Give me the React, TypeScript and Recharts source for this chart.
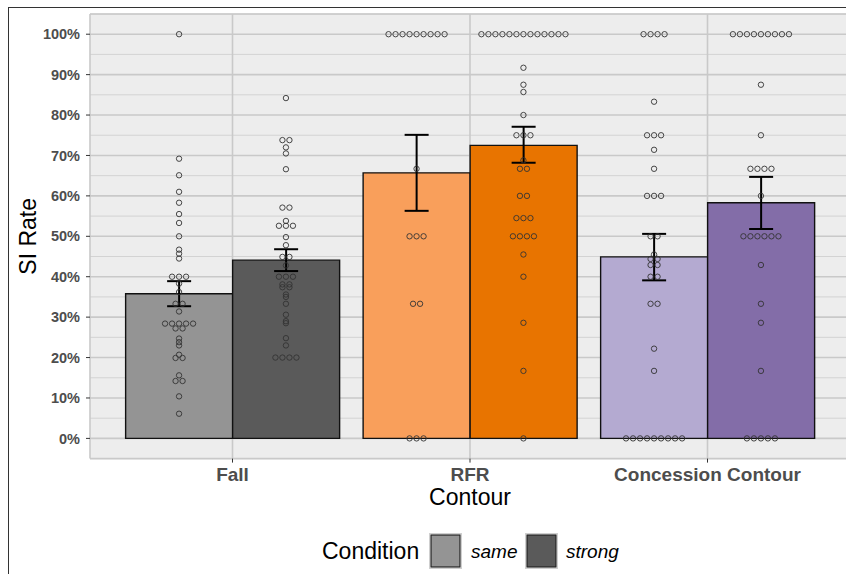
import React from 'react';
import { ComposedChart, Bar, Cell, ErrorBar, Scatter, XAxis, YAxis, CartesianGrid } from 'recharts';

// categories and conditions
const categories = ['Fall', 'RFR', 'Concession Contour'];

// bar means (%) and error-bar bounds
const sameMean = [35.8, 65.7, 44.9];
const strongMean = [44.1, 72.5, 58.3];
const sameLow = [32.7, 56.3, 39.1];
const sameHigh = [38.9, 75.1, 50.6];
const strongLow = [41.4, 68.2, 51.8];
const strongHigh = [46.8, 77.1, 64.7];

// individual SI rates (dotplot)
const fallSame = [100, 69.2, 65.1, 61, 58.3, 55.5, 53.3, 50, 46.7, 45.7, 44.5, 40, 40, 40, 38.3, 36.2, 33.3, 33.3, 31.4,
  28.4, 28.4, 28.4, 28.4, 28.4, 27.2, 27.2, 24.7, 23.8, 23, 20.7, 19.9, 19.9, 15.6, 14.2, 14.2, 10.4, 6.1];
const fallStrong = [84.2, 73.8, 73.8, 72, 70.5, 66.6, 57.1, 57.1, 53.8, 52.6, 52.6, 52.6, 49.8, 47.8, 44.9, 44.9, 42.8,
  40, 40, 40, 38.1, 38.1, 37.4, 37.4, 35.6, 35, 33.3, 30.6, 29, 28.5, 24.8, 23, 20, 20, 20, 20];
const rfrSame = [100, 100, 100, 100, 100, 100, 100, 100, 100, 66.7, 50, 50, 50, 33.3, 33.3, 0, 0, 0];
const rfrStrong = [100, 100, 100, 100, 100, 100, 100, 100, 100, 100, 100, 100, 100, 91.7, 87.5, 85.7, 80, 75, 75, 75,
  68.8, 66.7, 66.7, 60, 60, 54.5, 54.5, 54.5, 50, 50, 50, 50, 45.5, 40, 28.6, 16.7, 0];
const concSame = [100, 100, 100, 100, 83.3, 75, 75, 75, 71.4, 66.7, 60, 60, 60, 50, 50, 45.5, 44.4, 44.4, 42.9, 42.9,
  40, 40, 33.3, 33.3, 22.2, 16.7, 0, 0, 0, 0, 0, 0, 0, 0, 0];
const concStrong = [100, 100, 100, 100, 100, 100, 100, 100, 100, 87.5, 75, 66.7, 66.7, 66.7, 66.7, 60,
  50, 50, 50, 50, 50, 50, 42.9, 33.3, 28.6, 16.7, 0, 0, 0, 0, 0];

const yTicks = [0, 10, 20, 30, 40, 50, 60, 70, 80, 90, 100];
const minorTicks = [5, 15, 25, 35, 45, 55, 65, 75, 85, 95];
const catTicks = [0, 1, 2];

const sameColors = ['#949494', '#f99f5b', '#b4aad1'];
const strongColors = ['#5a5a5a', '#e87400', '#836da8'];

const FONT = '"Liberation Sans", Arial, Helvetica, sans-serif';
const dodge = 0.225;
const dotStep = 0.0295;

function stackDots(values: number[], center: number) {
  const counts = new Map<number, number>();
  values.forEach((v) => counts.set(v, (counts.get(v) || 0) + 1));
  const out: { x: number; y: number }[] = [];
  counts.forEach((n, v) => {
    for (let k = 0; k < n; k++) out.push({ x: center + (k - (n - 1) / 2) * dotStep, y: v });
  });
  return out;
}

const dotGroups = [[fallSame, fallStrong], [rfrSame, rfrStrong], [concSame, concStrong]];
const dots = dotGroups.flatMap(([s, t], i) => [...stackDots(s, i - dodge), ...stackDots(t, i + dodge)]);

const rows = categories.map((name, i) => ({
  name,
  same: sameMean[i],
  strong: strongMean[i],
  sameErr: [sameMean[i] - sameLow[i], sameHigh[i] - sameMean[i]],
  strongErr: [strongMean[i] - strongLow[i], strongHigh[i] - strongMean[i]],
}));

const renderDot = (p: any) => (
  <circle cx={p.cx} cy={p.cy} r={2.7} fill="none" stroke="#333" strokeWidth={0.9} />
);

export default function App() {
  return (
    <div style={{ position: 'fixed', left: 0, top: 0, width: 846, height: 574, overflow: 'hidden', background: '#fff' }}>
      <div style={{ position: 'absolute', left: 8, top: 7, width: 900, height: 700, borderLeft: '1px solid #333', borderTop: '1px solid #333' }} />
      <div style={{ position: 'absolute', left: 0, top: 0 }}>
        <ComposedChart width={850} height={574} data={rows} margin={{ top: 14, right: 0, bottom: 68, left: 0 }}
          barCategoryGap="5%" barGap={0}>
          <CartesianGrid yAxisId="minor" xAxisId="num" vertical={false} fill="#ededed" stroke="#d3d3d3" strokeWidth={1} />
          <CartesianGrid xAxisId="num" stroke="#c9c9c9" strokeWidth={1.6} />
          <XAxis dataKey="name" padding={{ left: 23.75, right: 23.75 }} height={47.4} axisLine={false}
            tickSize={4} tickMargin={5} tickLine={{ stroke: '#333' }}
            tick={{ fontSize: 19, fontWeight: 'bold', fill: '#4d4d4d', fontFamily: FONT }}
            label={{ value: 'Contour', position: 'insideBottom', offset: 1, style: { fontSize: 23, fill: '#000', fontFamily: FONT } }} />
          <XAxis xAxisId="num" type="number" dataKey="x" domain={[-0.6, 2.6]} ticks={catTicks} hide allowDataOverflow />
          <YAxis domain={[-5, 105]} ticks={yTicks} width={90} axisLine={false} allowDataOverflow
            tickSize={4} tickMargin={6} tickLine={{ stroke: '#333' }}
            tickFormatter={(v) => `${v}%`}
            tick={{ fontSize: 14.5, fontWeight: 'bold', fill: '#4d4d4d', fontFamily: FONT }}
            label={{ value: 'SI Rate', angle: -90, position: 'insideLeft', offset: 27.5, style: { textAnchor: 'middle', fontSize: 23, fill: '#000', fontFamily: FONT } }} />
          <YAxis yAxisId="minor" domain={[-5, 105]} ticks={minorTicks} hide allowDataOverflow />
          <Bar dataKey="same" stroke="#111" strokeWidth={1.4} isAnimationActive={false}>
            {rows.map((_, i) => <Cell key={i} fill={sameColors[i]} />)}
            <ErrorBar dataKey="sameErr" width={12} stroke="#000" strokeWidth={2} direction="y" />
          </Bar>
          <Bar dataKey="strong" stroke="#111" strokeWidth={1.4} isAnimationActive={false}>
            {rows.map((_, i) => <Cell key={i} fill={strongColors[i]} />)}
            <ErrorBar dataKey="strongErr" width={12} stroke="#000" strokeWidth={2} direction="y" />
          </Bar>
          <Scatter data={dots} dataKey="y" xAxisId="num" shape={renderDot} isAnimationActive={false} />
        </ComposedChart>
      </div>
      <svg width={846} height={574} style={{ position: 'absolute', left: 0, top: 0, pointerEvents: 'none' }}>
        <text x={322} y={559} fontSize={23} fontFamily={FONT} fill="#000">Condition</text>
        <rect x={429.5} y={533.5} width={32} height={35} fill="none" stroke="#cfcfcf" />
        <rect x={431} y={535} width={29} height={32} fill={sameColors[0]} stroke="#222" strokeWidth={1.2} />
        <text x={471} y={558} fontSize={19} fontStyle="italic" fontFamily={FONT} fill="#000">same</text>
        <rect x={525.5} y={533.5} width={32} height={35} fill="none" stroke="#cfcfcf" />
        <rect x={527} y={535} width={29} height={32} fill={strongColors[0]} stroke="#222" strokeWidth={1.2} />
        <text x={566} y={558} fontSize={19} fontStyle="italic" fontFamily={FONT} fill="#000">strong</text>
      </svg>
    </div>
  );
}
